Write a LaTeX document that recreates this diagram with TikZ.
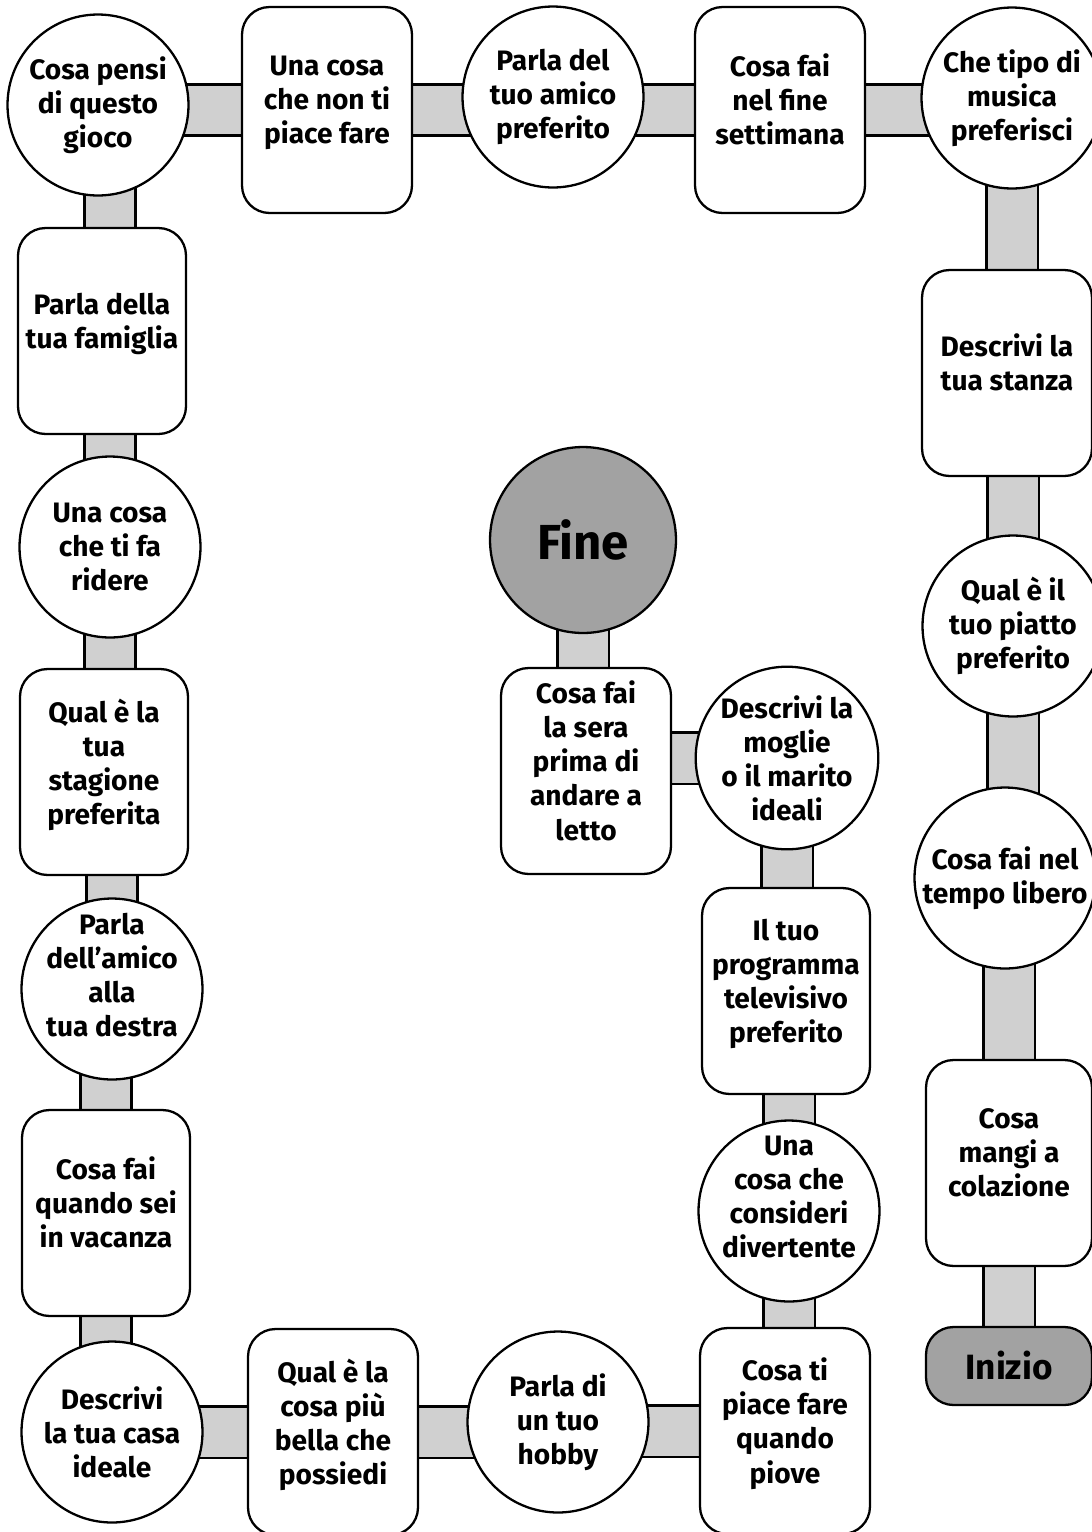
\documentclass[tikz,border=0pt]{standalone}
\usepackage{fontspec}
\setmainfont{Fira Sans}
\usetikzlibrary{backgrounds}
\definecolor{barfill}{RGB}{208,208,208}
\definecolor{stopfill}{RGB}{162,162,162}
\tikzset{
  square/.style={draw, line width=1.3pt, fill=white, rounded corners=0.55cm,
    minimum width=3.4cm, minimum height=4.12cm, align=center,
    font=\fontsize{16}{19.4}\selectfont\bfseries, text depth=12pt},
  disc/.style={draw, line width=1.3pt, fill=white, circle, minimum size=3.62cm,
    inner sep=0pt, align=center, font=\fontsize{16}{19.4}\selectfont\bfseries},
  raised/.style={text depth=16pt, inner sep=-12pt},
  bar/.style={line width=1.2pt, double=barfill, double distance=0.98cm}
}
\begin{document}
\begin{tikzpicture}[x=0.02cm, y=-0.02cm]
\useasboundingbox (0,0) rectangle (1092,1532);
% riga in alto
\node[disc] (c1) at (98,105) {Cosa pensi\\di questo\\gioco};
\node[square] (r1) at (327,110) {Una cosa\\che non ti\\piace fare};
\node[disc] (c2) at (553,97) {Parla del\\tuo amico\\preferito};
\node[square] (r2) at (780,110) {Cosa fai\\nel fine\\settimana};
\node[disc] (c3) at (1012,98) {Che tipo di\\musica\\preferisci};
% colonna a destra
\node[square] (r3) at (1007,373) {Descrivi la\\tua stanza};
\node[disc] (c4) at (1013,626) {Qual è il\\tuo piatto\\preferito};
\node[disc] (c5) at (1005,878) {Cosa fai nel\\tempo libero};
\node[square, minimum width=3.32cm] (r4) at (1009,1163) {Cosa\\mangi a\\colazione};
\node[draw, line width=1.3pt, fill=stopfill, rounded corners=0.55cm,
  minimum width=3.32cm, minimum height=1.56cm,
  font=\fontsize{20}{24}\selectfont\bfseries] (inizio) at (1009,1366) {Inizio};
% colonna a sinistra
\node[square, minimum width=3.36cm] (r5) at (102,331) {Parla della\\tua famiglia};
\node[disc] (c6) at (110,547) {Una cosa\\che ti fa\\ridere};
\node[square, minimum width=3.36cm] (r6) at (104,772) {Qual è la\\tua\\stagione\\preferita};
\node[disc, raised] (c7) at (112,989) {Parla\\dell’amico\\alla\\tua destra};
\node[square, minimum width=3.36cm] (r7) at (106,1213) {Cosa fai\\quando sei\\in vacanza};
\node[disc] (c8) at (112,1432) {Descrivi\\la tua casa\\ideale};
% riga in basso
\node[square] (r8) at (333,1432) {Qual è la\\cosa più\\bella che\\possiedi};
\node[disc] (c9) at (558,1422) {Parla di\\un tuo\\hobby};
\node[square] (r9) at (785,1431) {Cosa ti\\piace fare\\quando\\piove};
% spirale verso il centro
\node[disc, raised] (c10) at (789,1211) {Una\\cosa che\\consideri\\divertente};
\node[square, minimum width=3.36cm] (r10) at (786,991) {Il tuo\\programma\\televisivo\\preferito};
\node[disc] (c11) at (787,758) {Descrivi la\\moglie\\o il marito\\ideali};
\node[square] (r11) at (586,771) {Cosa fai\\la sera\\prima di\\andare a\\letto};
\node[draw, line width=1.3pt, fill=stopfill, circle, minimum size=3.72cm,
  font=\fontsize{28}{32}\selectfont\bfseries] (fine) at (583,540) {Fine};
% barre grigie sotto le caselle
\begin{scope}[on background layer]
\draw[bar] (r1.center) -- (r1.center -| c1.center);
\draw[bar] (r1.center) -- (r1.center -| c2.center);
\draw[bar] (r2.center) -- (r2.center -| c2.center);
\draw[bar] (r2.center) -- (r2.center -| c3.center);
\draw[bar] (c3.center) -- (c3.center |- r3.center);
\draw[bar] (c4.center) -- (c4.center |- r3.center);
\draw[bar] (c4.center) -- (c4.center |- c5.center);
\draw[bar] (r4.center) -- (r4.center |- c5.center);
\draw[bar] (r4.center) -- (r4.center |- inizio.center);
\draw[bar] (c6.center) -- (c6.center |- c1.center);
\draw[bar] (c6.center) -- (c6.center |- r6.center);
\draw[bar] (c7.center) -- (c7.center |- r6.center);
\draw[bar] (r7.center) -- (r7.center |- c7.center);
\draw[bar] (r7.center) -- (r7.center |- c8.center);
\draw[bar] (r8.center) -- (r8.center -| c8.center);
\draw[bar] (r8.center) -- (r8.center -| c9.center);
\draw[bar] (r9.center) -- (r9.center -| c9.center);
\draw[bar] (c10.center) -- (c10.center |- r9.center);
\draw[bar] (c10.center) -- (c10.center |- r10.center);
\draw[bar] (c11.center) -- (c11.center |- r10.center);
\draw[bar] (c11.center) -- (c11.center -| r11.center);
\draw[bar] (fine.center) -- (fine.center |- r11.center);
\end{scope}
\end{tikzpicture}
\end{document}
